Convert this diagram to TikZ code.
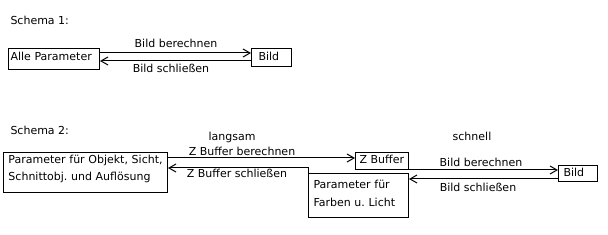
\documentclass[tikz,border=0pt]{standalone}
\usepackage{fontspec}
\setmainfont{DejaVu Sans}
\usetikzlibrary{arrows.meta}
\begin{document}
\begin{tikzpicture}[x=1pt,y=-1pt,
  font=\fontsize{11}{17}\selectfont,
  line width=1pt,
  box/.style={draw, line width=1pt, anchor=north west, inner ysep=0pt, align=left},
  lbl/.style={inner sep=0pt, anchor=base},
  title/.style={inner sep=0pt, anchor=base west},
  arr/.style={-{Straight Barb[length=7pt,width=8pt]}}]
\useasboundingbox[fill=white] (0,0) rectangle (608,235);
% Schema 1
\node[title] (s1) at (10,25) {Schema 1:};
\node[box, minimum width=91pt, minimum height=21pt, inner xsep=2pt, text width=87pt,
      text height=9pt, text depth=6pt] (alle) at (8,48) {Alle Parameter};
\node[box, minimum width=40pt, minimum height=18pt, inner xsep=7pt, text width=26pt,
      text height=9pt, text depth=3pt] (bild1) at (251,48) {Bild};
\draw[arr] ([yshift=-5pt]alle.north east) -- ([yshift=-5pt]bild1.north west);
\draw[arr] ([yshift=-13pt]bild1.north west) -- ([yshift=-13pt]alle.north east);
\node[lbl] (l1a) at (176,48) {Bild berechnen};
\node[lbl] (l1b) at (171,73) {Bild schließen};
% Schema 2
\node[title] (s2) at (10,135) {Schema 2:};
\node[box, minimum width=164pt, minimum height=40pt, inner xsep=5pt, text width=154pt,
      text height=9pt, text depth=27pt] (param) at (3,152)
      {\mbox{Parameter für Objekt, Sicht,}\\\mbox{Schnittobj.\ und Auflösung}};
\node[box, minimum width=53pt, minimum height=17pt, inner xsep=4pt, text width=45pt,
      text height=9pt, text depth=4pt] (zbuf) at (355,152) {Z~Buffer};
\node[box, minimum width=100pt, minimum height=44pt, inner xsep=5pt, text width=90pt,
      text height=9pt, text depth=23pt, font=\fontsize{11}{18}\selectfont] (farben) at (308,173)
      {Parameter für\\Farben u.\ Licht};
\node[box, minimum width=39pt, minimum height=16pt, inner xsep=5pt, text width=29pt,
      text height=9pt, text depth=3pt] (bild2) at (558,165) {Bild};
\draw[arr] ([yshift=-6pt]param.north east) -- ([yshift=-6pt]zbuf.north west);
\draw[arr] (farben.north west) -- ([yshift=5pt]farben.north west) -- ([yshift=-16pt]param.north east);
\draw[arr] ([yshift=3pt]farben.north east) -- ([yshift=-5pt]bild2.north west);
\draw[arr] ([yshift=-14pt]bild2.north west) -- ([yshift=-6pt]farben.north east);
\node[lbl] (langsam) at (232,141) {langsam};
\node[lbl] (zba) at (242,156) {Z Buffer berechnen};
\node[lbl] (zbb) at (237,178) {Z Buffer schließen};
\node[lbl] (schnell) at (472,141) {schnell};
\node[lbl] (l2a) at (481,167) {Bild berechnen};
\node[lbl] (l2b) at (478,192) {Bild schließen};
\end{tikzpicture}
\end{document}
